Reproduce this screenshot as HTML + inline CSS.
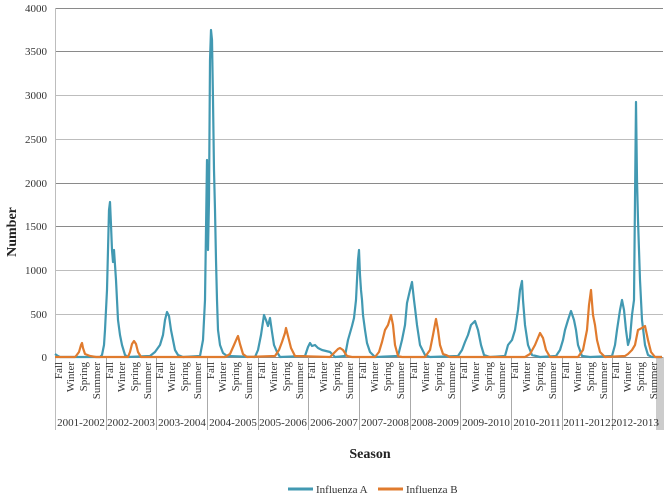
<!DOCTYPE html>
<html><head><meta charset="utf-8"><style>
body{margin:0;background:#fff}
svg{display:block;font-family:"Liberation Serif",serif}
</style></head><body>
<svg width="670" height="504" viewBox="0 0 670 504" xmlns="http://www.w3.org/2000/svg">
<g stroke-width="1">
<line x1="55" x2="663" y1="8.5" y2="8.5" stroke="#8a8a8a"/>
<line x1="55" x2="663" y1="51.5" y2="51.5" stroke="#8a8a8a"/>
<line x1="55" x2="663" y1="95.5" y2="95.5" stroke="#bdbdbd"/>
<line x1="55" x2="663" y1="139.5" y2="139.5" stroke="#bdbdbd"/>
<line x1="55" x2="663" y1="183.5" y2="183.5" stroke="#8a8a8a"/>
<line x1="55" x2="663" y1="226.5" y2="226.5" stroke="#8a8a8a"/>
<line x1="55" x2="663" y1="270.5" y2="270.5" stroke="#bdbdbd"/>
<line x1="55" x2="663" y1="314.5" y2="314.5" stroke="#bdbdbd"/>
<line x1="55.5" x2="55.5" y1="8" y2="430" stroke="#bdbdbd"/>
<line x1="55" x2="663" y1="357.5" y2="357.5" stroke="#8a8a8a"/>
</g>
<g stroke="#aaa">
<line x1="106.5" x2="106.5" y1="357" y2="430"/>
<line x1="156.5" x2="156.5" y1="357" y2="430"/>
<line x1="207.5" x2="207.5" y1="357" y2="430"/>
<line x1="258.5" x2="258.5" y1="357" y2="430"/>
<line x1="308.5" x2="308.5" y1="357" y2="430"/>
<line x1="359.5" x2="359.5" y1="357" y2="430"/>
<line x1="410.5" x2="410.5" y1="357" y2="430"/>
<line x1="460.5" x2="460.5" y1="357" y2="430"/>
<line x1="511.5" x2="511.5" y1="357" y2="430"/>
<line x1="562.5" x2="562.5" y1="357" y2="430"/>
<line x1="612.5" x2="612.5" y1="357" y2="430"/>
</g>
<g stroke="#999"><line x1="657" x2="657" y1="357" y2="430"/><line x1="659" x2="659" y1="357" y2="430"/><line x1="661" x2="661" y1="357" y2="430"/><line x1="663" x2="663" y1="357" y2="430"/></g>
<g font-size="11" fill="#333" text-anchor="end">
<text x="47" y="12">4000</text><text x="47" y="55">3500</text><text x="47" y="99">3000</text><text x="47" y="143">2500</text><text x="47" y="187">2000</text><text x="47" y="230">1500</text><text x="47" y="274">1000</text><text x="47" y="318">500</text><text x="47" y="361">0</text>
</g>
<g font-size="11" fill="#333" text-anchor="end" id="lbls"></g>
<g font-size="11" fill="#333" text-anchor="middle">
<text x="81" y="426">2001-2002</text><text x="131" y="426">2002-2003</text><text x="182" y="426">2003-2004</text><text x="233" y="426">2004-2005</text><text x="283" y="426">2005-2006</text><text x="334" y="426">2006-2007</text><text x="385" y="426">2007-2008</text><text x="435" y="426">2008-2009</text><text x="486" y="426">2009-2010</text><text x="537" y="426">2010-2011</text><text x="587" y="426">2011-2012</text><text x="635" y="426">2012-2013</text>
</g>
<polyline fill="none" stroke="#4299b2" stroke-width="2.2" stroke-linejoin="round" points="55,354 58,356 60,357 100,357 102,355 104,345 105,330 106,310 107,290 108,250 109,210 110,202 111,225 112,250 113,262 114,250 115,265 116,280 117,300 118,320 120,335 122,345 125,355 128,357 150,356 155,352 160,345 163,335 165,320 167,312 169,316 171,330 173,340 175,350 178,355 183,357 200,356 203,340 205,300 206,230 207,160 208,250 209,200 210,60 211,30 212,40 213,100 214,170 215,210 216,260 217,300 218,330 220,345 223,353 227,356 255,357 258,350 261,335 264,315 266,320 268,326 270,318 272,332 274,345 277,352 280,357 305,356 308,347 310,343 312,346 315,345 318,348 322,350 326,351 330,352 335,357 345,356 348,340 352,326 354,318 356,300 357,280 358,260 359,250 360,275 361,290 362,300 363,315 365,330 367,343 370,352 375,357 398,356 402,340 405,325 407,303 410,290 412,282 414,300 415,308 417,325 420,345 425,355 430,357 458,356 462,350 465,342 468,335 471,325 475,321 478,330 481,345 484,355 490,357 505,356 508,345 512,340 515,330 518,310 520,290 522,281 523,300 525,325 528,345 532,355 540,357 556,356 560,350 563,340 565,330 568,320 571,311 574,320 576,330 578,345 582,356 590,357 612,356 615,345 617,330 620,310 622,300 624,310 626,330 628,345 630,338 632,315 634,300 635,200 636,102 637,180 638,220 640,280 642,320 645,345 648,355 652,357 662,357"/>
<polyline fill="none" stroke="#e07b2e" stroke-width="2.2" stroke-linejoin="round" points="55,357 75,357 76,356 79,352 81,345 82,343 83,348 85,354 90,356 96,357 128,357 130,352 132,344 134,341 136,344 138,352 141,357 225,357 230,354 234,345 237,338 238,336 240,344 243,354 247,357 275,356 279,350 282,342 285,333 286,328 288,336 291,348 295,356 330,357 334,353 338,349 340,348 343,350 347,356 352,357 375,357 379,352 382,342 385,330 388,325 391,315 393,325 395,345 398,356 402,357 425,357 430,350 433,335 436,319 438,330 440,345 443,354 446,355 450,357 525,357 530,354 535,345 540,333 543,338 546,350 550,357 578,357 583,350 587,330 589,305 591,290 593,315 595,325 597,340 600,352 605,357 625,356 628,354 632,350 635,345 638,330 642,328 645,326 648,340 651,352 655,357 662,357"/>
<text x="370" y="458" font-size="14" font-weight="bold" text-anchor="middle" fill="#222">Season</text>
<text transform="translate(16,232) rotate(-90)" font-size="14" font-weight="bold" text-anchor="middle" fill="#222">Number</text>
<line x1="288" x2="313" y1="489" y2="489" stroke="#4299b2" stroke-width="3"/>
<text x="316" y="493" font-size="11" fill="#333">Influenza A</text>
<line x1="378" x2="403" y1="489" y2="489" stroke="#e07b2e" stroke-width="3"/>
<text x="406" y="493" font-size="11" fill="#333">Influenza B</text>
<g font-size="11" fill="#333" text-anchor="end">
<g transform="translate(0,0)">
<text transform="translate(62,362) rotate(-90)">Fall</text><text transform="translate(74,362) rotate(-90)">Winter</text><text transform="translate(87,362) rotate(-90)">Spring</text><text transform="translate(100,362) rotate(-90)">Summer</text>
<text transform="translate(113,362) rotate(-90)">Fall</text><text transform="translate(125,362) rotate(-90)">Winter</text><text transform="translate(138,362) rotate(-90)">Spring</text><text transform="translate(151,362) rotate(-90)">Summer</text>
<text transform="translate(163,362) rotate(-90)">Fall</text><text transform="translate(175,362) rotate(-90)">Winter</text><text transform="translate(188,362) rotate(-90)">Spring</text><text transform="translate(201,362) rotate(-90)">Summer</text>
<text transform="translate(214,362) rotate(-90)">Fall</text><text transform="translate(226,362) rotate(-90)">Winter</text><text transform="translate(239,362) rotate(-90)">Spring</text><text transform="translate(252,362) rotate(-90)">Summer</text>
<text transform="translate(265,362) rotate(-90)">Fall</text><text transform="translate(277,362) rotate(-90)">Winter</text><text transform="translate(290,362) rotate(-90)">Spring</text><text transform="translate(303,362) rotate(-90)">Summer</text>
<text transform="translate(315,362) rotate(-90)">Fall</text><text transform="translate(327,362) rotate(-90)">Winter</text><text transform="translate(340,362) rotate(-90)">Spring</text><text transform="translate(353,362) rotate(-90)">Summer</text>
<text transform="translate(366,362) rotate(-90)">Fall</text><text transform="translate(378,362) rotate(-90)">Winter</text><text transform="translate(391,362) rotate(-90)">Spring</text><text transform="translate(404,362) rotate(-90)">Summer</text>
<text transform="translate(417,362) rotate(-90)">Fall</text><text transform="translate(429,362) rotate(-90)">Winter</text><text transform="translate(442,362) rotate(-90)">Spring</text><text transform="translate(455,362) rotate(-90)">Summer</text>
<text transform="translate(467,362) rotate(-90)">Fall</text><text transform="translate(479,362) rotate(-90)">Winter</text><text transform="translate(492,362) rotate(-90)">Spring</text><text transform="translate(505,362) rotate(-90)">Summer</text>
<text transform="translate(518,362) rotate(-90)">Fall</text><text transform="translate(530,362) rotate(-90)">Winter</text><text transform="translate(543,362) rotate(-90)">Spring</text><text transform="translate(556,362) rotate(-90)">Summer</text>
<text transform="translate(569,362) rotate(-90)">Fall</text><text transform="translate(581,362) rotate(-90)">Winter</text><text transform="translate(594,362) rotate(-90)">Spring</text><text transform="translate(607,362) rotate(-90)">Summer</text>
<text transform="translate(619,362) rotate(-90)">Fall</text><text transform="translate(631,362) rotate(-90)">Winter</text><text transform="translate(644,362) rotate(-90)">Spring</text><text transform="translate(657,362) rotate(-90)">Summer</text>
</g></g>
</svg>
</body></html>
